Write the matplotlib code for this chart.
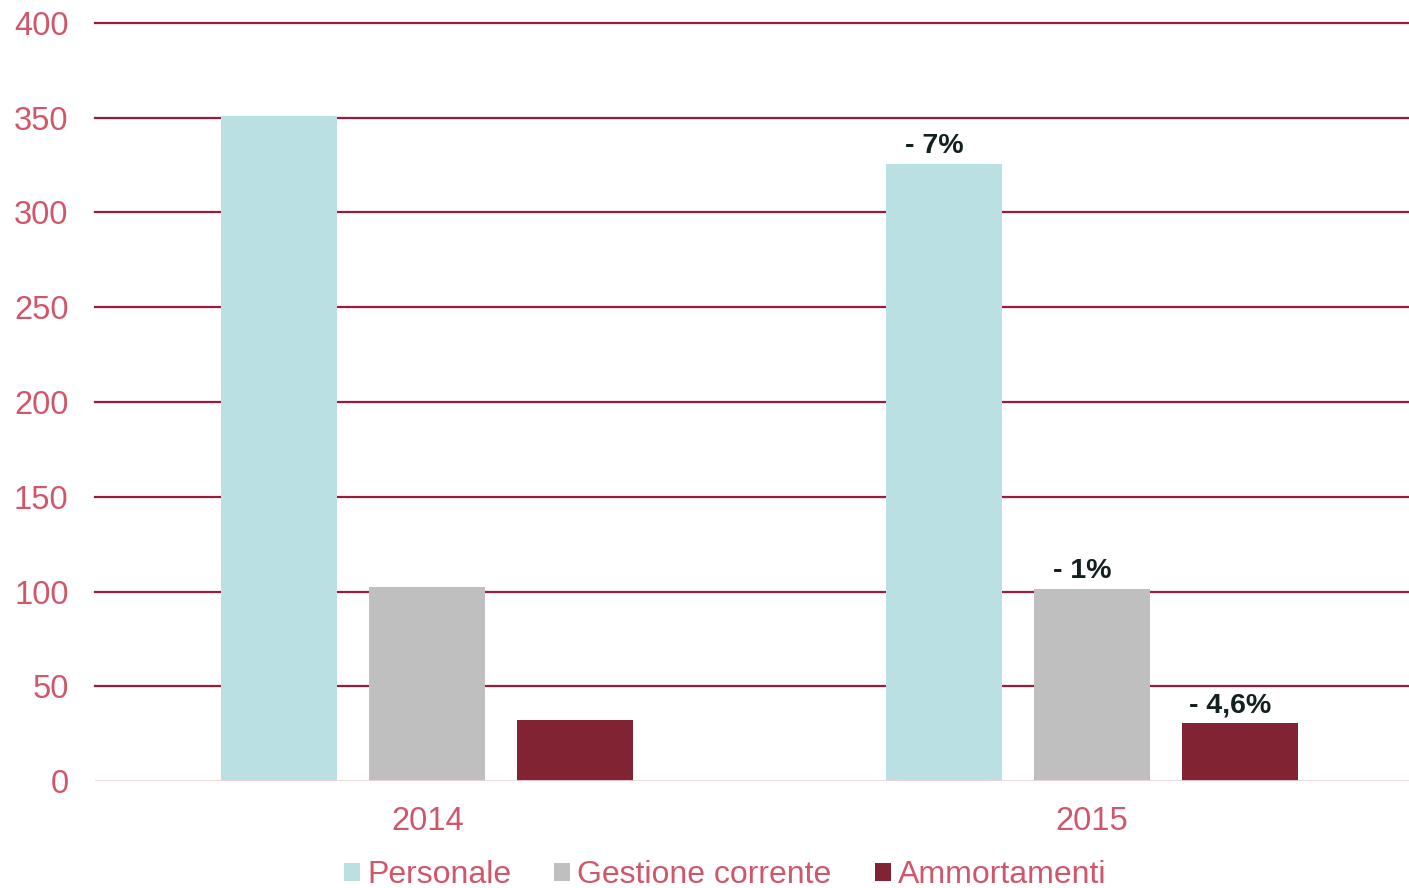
import numpy as np
import matplotlib.pyplot as plt

plt.rcParams['font.family'] = ['Liberation Sans', 'DejaVu Sans']

anni = ['2014', '2015']
serie = ['Personale', 'Gestione corrente', 'Ammortamenti']
personale = [351, 325.6]
gestione = [102.4, 101.3]
ammortamenti = [32.2, 30.6]
variazioni = ['- 7%', '- 1%', '- 4,6%']

colori = ['#bae0e3', '#bfbfbf', '#822334']
testo = '#d0566a'

fig = plt.figure(figsize=(14.09, 8.88), dpi=100)
ax = fig.add_axes([95 / 1409, 1 - 781 / 888, 1 - 95 / 1409, 758 / 888])

x = np.arange(len(anni))
w = 0.1744
off = 0.2226
valori = [personale, gestione, ammortamenti]
for i, (nome, v) in enumerate(zip(serie, valori)):
    ax.bar(x + (i - 1) * off, v, width=w, color=colori[i], label=nome, zorder=3)

# variation labels above the 2015 bars
for i, v in enumerate(valori):
    ax.text(x[1] + (i - 1) * off - 0.015, v[1] + 2.5, variazioni[i],
            ha='center', va='bottom', fontsize=20.5, fontweight='bold',
            color='#142020', zorder=4)

ax.set_ylim(0, 400)
ax.set_xlim(-0.5, 1.477)
ax.set_yticks(np.arange(0, 401, 50))
ax.set_xticks(x)
ax.set_xticklabels(anni)
for g in np.arange(50, 401, 50):
    ax.axhline(g, color='#9b1b3a', lw=1.6, zorder=1, clip_on=False)
ax.axhline(0, color='#f2d3d8', lw=2, zorder=4)

for s in ax.spines.values():
    s.set_visible(False)
ax.tick_params(axis='y', length=0, pad=19, labelsize=23.5, labelcolor=testo)
ax.tick_params(axis='x', length=0, pad=18, labelsize=23.5, labelcolor=testo)

fig.legend(loc='lower center', bbox_to_anchor=(725 / 1409, -0.035), ncol=3,
           frameon=False, fontsize=23, labelcolor=testo, handlelength=0.5,
           handleheight=0.5, handletextpad=0.22, columnspacing=1.35)

fig.savefig('out.png', dpi=100)
